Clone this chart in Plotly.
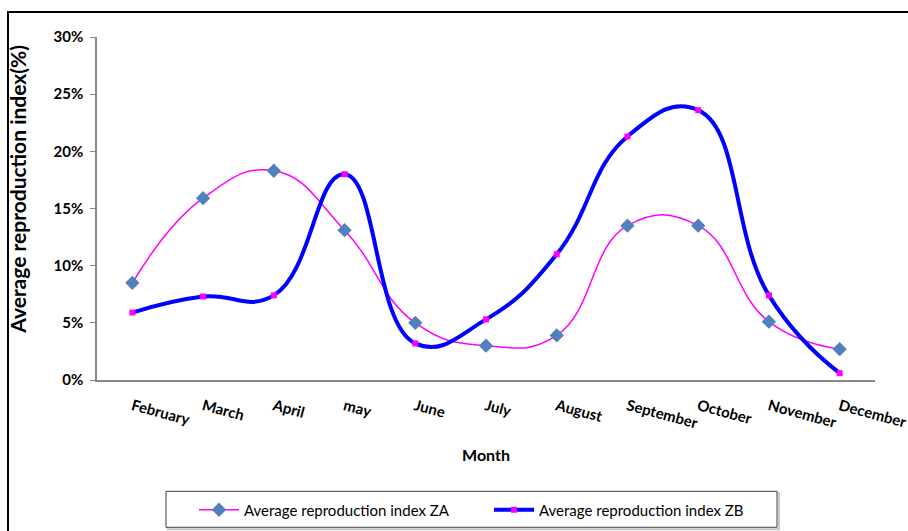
import plotly.graph_objects as go

months = ["February", "March", "April", "may", "June", "July", "August",
          "September", "October", "November", "December"]
za = [0.085, 0.159, 0.183, 0.131, 0.050, 0.030, 0.039, 0.135, 0.135, 0.051, 0.027]
zb = [0.059, 0.073, 0.074, 0.180, 0.032, 0.053, 0.110, 0.213, 0.236, 0.074, 0.006]
y_ticks = [0, 0.05, 0.10, 0.15, 0.20, 0.25, 0.30]

FONT = "Lato"
W, H = 908, 531

fig = go.Figure()
fig.add_trace(go.Scatter(
    x=months, y=za, name="Average reproduction index ZA",
    mode="lines+markers",
    line=dict(color="#FF00FF", width=1.5, shape="spline", smoothing=1.3),
    marker=dict(symbol="diamond", size=11, color="#4F81BD"),
))
fig.add_trace(go.Scatter(
    x=months, y=zb, name="Average reproduction index ZB",
    mode="lines+markers",
    line=dict(color="#0000FF", width=4, shape="spline", smoothing=1.3),
    marker=dict(symbol="square", size=6, color="#FF00FF"),
))

# paper coordinate helpers (plot area: x 97..875, y 37..380.5)
def px(x):
    return (x - 97) / 778.0

def py(y):
    return (380.5 - y) / 343.5

fig.update_layout(
    width=W, height=H,
    margin=dict(l=97, r=33, t=37, b=150.5, autoexpand=False),
    paper_bgcolor="white", plot_bgcolor="white",
    font=dict(family=FONT, color="black", size=15),
    showlegend=True,
    legend=dict(
        orientation="h", xref="container", yref="container",
        x=194 / W, xanchor="left", y=(H - 510) / H, yanchor="middle",
        borderwidth=0, bgcolor="rgba(0,0,0,0)",
        font=dict(family=FONT, size=15, color="black"),
        itemwidth=40, entrywidth=240,
    ),
    shapes=[
        dict(type="rect", xref="paper", yref="paper",
             x0=px(8), x1=px(930), y0=py(560), y1=py(12),
             line=dict(color="black", width=2), layer="below"),
        dict(type="rect", xref="paper", yref="paper",
             x0=px(168), x1=px(779), y0=py(530), y1=py(494),
             line=dict(color="#C8C8C8", width=2), layer="below"),
        dict(type="rect", xref="paper", yref="paper",
             x0=px(166), x1=px(777), y0=py(528), y1=py(492),
             line=dict(color="#404040", width=1), fillcolor="white", layer="below"),
    ],
    annotations=[
        dict(text="<b>Average reproduction index(%)</b>", textangle=-90,
             xref="paper", yref="paper", x=px(18), y=py(190),
             xanchor="center", yanchor="middle", showarrow=False,
             font=dict(family=FONT, size=21, color="black")),
    ],
)
fig.update_xaxes(
    type="category", range=[-0.5, 10.5], automargin=False,
    showline=True, linecolor="#868686", linewidth=2,
    showgrid=False, ticks="outside", ticklen=10, tickcolor="rgba(0,0,0,0)", tickangle=15,
    tickfont=dict(family=FONT, size=15, color="black", weight="bold"),
    title=dict(text="<b>Month</b>", font=dict(family=FONT, size=16), standoff=19),
)
fig.update_yaxes(
    range=[0, 0.30], tickvals=y_ticks, tickformat=".0%", automargin=False,
    showline=True, linecolor="#868686", linewidth=1.5,
    showgrid=False, zeroline=False, ticks="outside", ticklen=5, tickcolor="#868686",
    ticklabelstandoff=4,
    tickfont=dict(family=FONT, size=15, color="black", weight="bold"),
)

fig.write_html("out.html")
